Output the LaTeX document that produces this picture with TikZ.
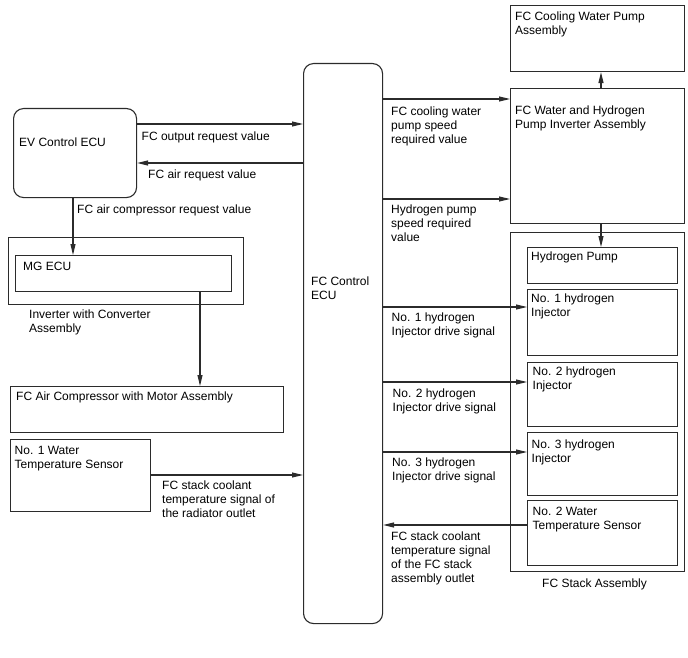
\documentclass[tikz,border=0pt]{standalone}
\usepackage{fontspec}
\setmainfont{Liberation Sans}
\usetikzlibrary{arrows.meta}
\definecolor{ln}{HTML}{2B2B2B}
\tikzset{
  box/.style={draw=ln, line width=1.1pt, inner sep=0pt, anchor=north west},
  rbox/.style={box, rounded corners=10pt},
  txt/.style={anchor=north west, inner sep=0pt, align=left, font=\fontsize{12}{14}\selectfont, text=black},
  arr/.style={draw=ln, line width=1.1pt, -{Triangle[length=11pt,width=5pt]}}
}
\begin{document}
\begin{tikzpicture}[x=1pt,y=-1pt]
\useasboundingbox (0,0) rectangle (688,658);
% boxes
\node[rbox, minimum width=79pt, minimum height=560pt] (ecu) at (303,63) {};
\node[rbox, minimum width=123pt, minimum height=89pt] (ev) at (13,108) {};
\node[box, minimum width=235pt, minimum height=67pt] (inv) at (8,237) {};
\node[box, minimum width=216pt, minimum height=36pt] (mg) at (15,255) {};
\node[box, minimum width=273pt, minimum height=46pt] (acomp) at (10,386) {};
\node[box, minimum width=140pt, minimum height=72pt] (ws1) at (10,439) {};
\node[box, minimum width=174pt, minimum height=66pt] (cwp) at (510,5) {};
\node[box, minimum width=174pt, minimum height=135pt] (pinv) at (510,88) {};
\node[box, minimum width=174pt, minimum height=339pt] (stack) at (510,232) {};
\node[box, minimum width=150pt, minimum height=36pt] (hp) at (527,247) {};
\node[box, minimum width=150pt, minimum height=66pt] (inj1) at (527,289) {};
\node[box, minimum width=150pt, minimum height=64pt] (inj2) at (527,362) {};
\node[box, minimum width=150pt, minimum height=63pt] (inj3) at (527,432) {};
\node[box, minimum width=150pt, minimum height=65pt] (ws2) at (527,500) {};
% box texts
\node[txt] (tecu) at (311,277) {FC Control\\ECU};
\node[txt] (tev) at (19,138) {EV Control ECU};
\node[txt] (tmg) at (23,262) {MG ECU};
\node[txt] (tinv) at (29,310) {Inverter with Converter\\Assembly};
\node[txt] (tac) at (16,392) {FC Air Compressor with Motor Assembly};
\node[txt] (tws1) at (14.5,446) {No. 1 Water\\Temperature Sensor};
\node[txt] (tcwp) at (515,11.5) {FC Cooling Water Pump\\Assembly};
\node[txt] (tpinv) at (515,106) {FC Water and Hydrogen\\Pump Inverter Assembly};
\node[txt] (thp) at (531,252) {Hydrogen Pump};
\node[txt] (tinj1) at (531,294) {No. 1 hydrogen\\Injector};
\node[txt] (tinj2) at (532.5,366.5) {No. 2 hydrogen\\Injector};
\node[txt] (tinj3) at (531.5,440) {No. 3 hydrogen\\Injector};
\node[txt] (tws2) at (532.5,506.5) {No. 2 Water\\Temperature Sensor};
\node[txt] (tstack) at (542,578.5) {FC Stack Assembly};
% connectors
\draw[arr] (ev.east |- 0,124) -- (ecu.west |- 0,124);
\draw[arr] (ecu.west |- 0,163) -- (ev.east |- 0,163);
\draw[arr] (ev.south -| 73,0) -- (mg.north -| 73,0);
\draw[arr] (mg.south -| 200,0) -- (acomp.north -| 200,0);
\draw[arr] (ws1.east |- 0,475) -- (ecu.west |- 0,475);
\draw[arr] (ecu.east |- 0,99) -- (pinv.west |- 0,99);
\draw[arr] (ecu.east |- 0,199) -- (pinv.west |- 0,199);
\draw[arr] (pinv.north -| 601,0) -- (cwp.south -| 601,0);
\draw[arr] (pinv.south -| 601,0) -- (hp.north -| 601,0);
\draw[arr] (ecu.east |- 0,307) -- (inj1.west |- 0,307);
\draw[arr] (ecu.east |- 0,382) -- (inj2.west |- 0,382);
\draw[arr] (ecu.east |- 0,452) -- (inj3.west |- 0,452);
\draw[arr] (ws2.west |- 0,525) -- (ecu.east |- 0,525);
% connector labels
\node[txt] (l1) at (141.5,131.5) {FC output request value};
\node[txt] (l2) at (148,170) {FC air request value};
\node[txt] (l3) at (77,205) {FC air compressor request value};
\node[txt] (l4) at (162,481) {FC stack coolant\\temperature signal of\\the radiator outlet};
\node[txt] (l5) at (391,107) {FC cooling water\\pump speed\\required value};
\node[txt] (l6) at (391,205) {Hydrogen pump\\speed required\\value};
\node[txt] (l7) at (391.5,313) {No. 1 hydrogen\\Injector drive signal};
\node[txt] (l8) at (392.5,389) {No. 2 hydrogen\\Injector drive signal};
\node[txt] (l9) at (392,457.5) {No. 3 hydrogen\\Injector drive signal};
\node[txt] (l10) at (391,532) {FC stack coolant\\temperature signal\\of the FC stack\\assembly outlet};
\end{tikzpicture}
\end{document}
